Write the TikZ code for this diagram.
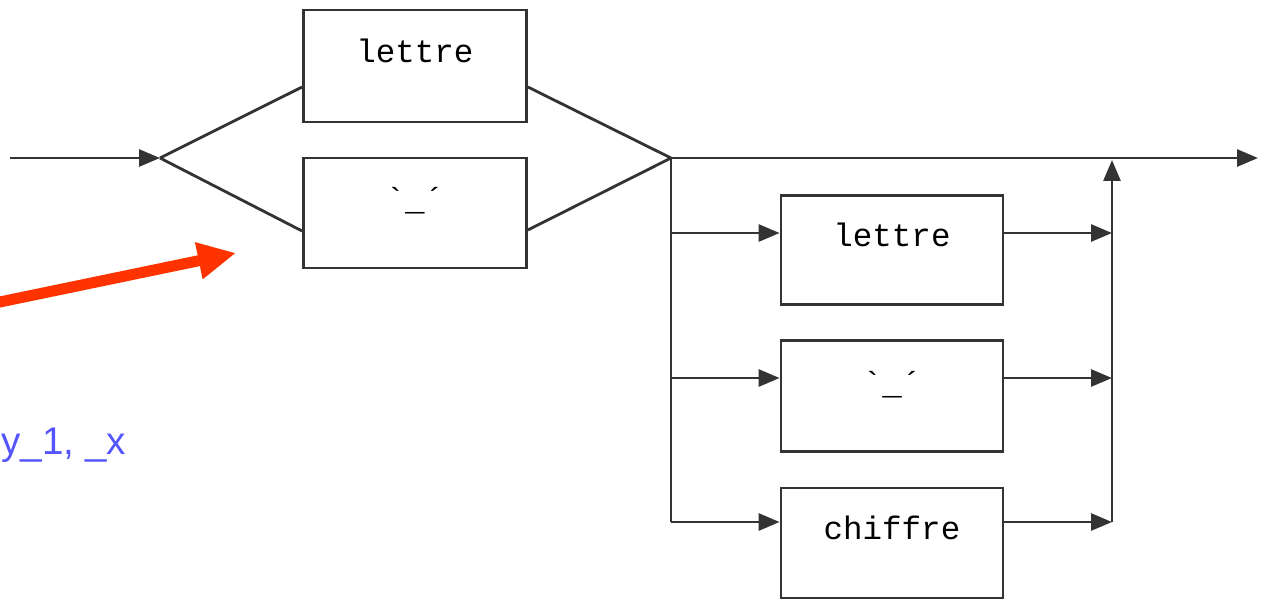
\documentclass[tikz,border=0pt]{standalone}
\usepackage{fontspec}
\setmainfont{Liberation Serif}
\newfontfamily\monofont{Liberation Mono}
\newfontfamily\labsans{Liberation Sans}
\usetikzlibrary{arrows.meta}
\definecolor{redarrow}{HTML}{FF3300}
\definecolor{bluetext}{HTML}{5555FF}
\definecolor{linegray}{HTML}{333333}
\begin{document}
\begin{tikzpicture}[x=0.02cm,y=-0.02cm,
  conn/.style={draw=linegray,line width=1.6pt},
  arr/.style={conn,-{Triangle[length=0.42cm,width=0.34cm]}},
  box/.style={draw=linegray,line width=1.6pt,inner sep=0pt,minimum width=4.46cm},
  lbl/.style={font=\monofont\fontsize{18.5}{20}\selectfont,inner sep=0pt,anchor=base}]
\useasboundingbox (0,0) rectangle (1262,599);

% boxes
\node[box,minimum height=2.24cm] (b1) at (415,66) {};
\node[box,minimum height=2.20cm] (b2) at (415,213) {};
\node[box,minimum width=4.44cm,minimum height=2.18cm] (ba) at (892,250) {};
\node[box,minimum width=4.44cm,minimum height=2.22cm] (bb) at (892,396) {};
\node[box,minimum width=4.44cm,minimum height=2.20cm] (bc) at (892,543) {};

% texts
\node[lbl] (t1) at (415,62) {lettre};
\node[lbl] (t2) at (415,210) {`\_´};
\node[lbl] (ta) at (892,246) {lettre};
\node[lbl] (tb) at (892,394) {`\_´};
\node[lbl] (tc) at (892,539) {chiffre};

% connection points
\coordinate (start) at (10,158);
\coordinate (split) at (160,158);
\coordinate (merge) at (671,158);
\coordinate (join) at (1112,158);
\coordinate (end) at (1258,158);
\coordinate (b1in) at ([yshift=-0.42cm]b1.west);
\coordinate (b1out) at ([yshift=-0.42cm]b1.east);
\coordinate (b2in) at ([yshift=-0.36cm]b2.west);
\coordinate (b2out) at ([yshift=-0.34cm]b2.east);
\coordinate (bain) at ([yshift=0.34cm]ba.west);
\coordinate (baout) at ([yshift=0.34cm]ba.east);
\coordinate (bbin) at ([yshift=0.36cm]bb.west);
\coordinate (bbout) at ([yshift=0.36cm]bb.east);
\coordinate (bcin) at ([yshift=0.42cm]bc.west);
\coordinate (bcout) at ([yshift=0.42cm]bc.east);

% left part
\draw[arr] (start) -- (split);
\draw[conn] (split) -- (b1in);
\draw[conn] (split) -- (b2in);
\draw[conn] (b1out) -- (merge);
\draw[conn] (b2out) -- (merge);
\draw[arr] (merge) -- (end);

% right part
\draw[conn] (merge) -- (merge |- bcin);
\draw[arr] (merge |- bain) -- (bain);
\draw[arr] (merge |- bbin) -- (bbin);
\draw[arr] (merge |- bcin) -- (bcin);
\draw[arr] (baout) -- (join |- baout);
\draw[arr] (bbout) -- (join |- bbout);
\draw[arr] (bcout) -- (join |- bcout);
\draw[arr] (join |- bcout) -- ([yshift=-0.04cm]join);

% red arrow and blue text
\coordinate (rtail) at (-5,303);
\coordinate (rhead) at (236,253);
\draw[redarrow,line width=0.22cm,-{Triangle[length=0.76cm,width=0.7cm]}] (rtail) -- (rhead);
\node[font=\labsans\fontsize{22}{25}\selectfont,text=bluetext,anchor=base west,inner sep=0pt] (lab) at (1,454) {y\_1, \_x};
\end{tikzpicture}
\end{document}
